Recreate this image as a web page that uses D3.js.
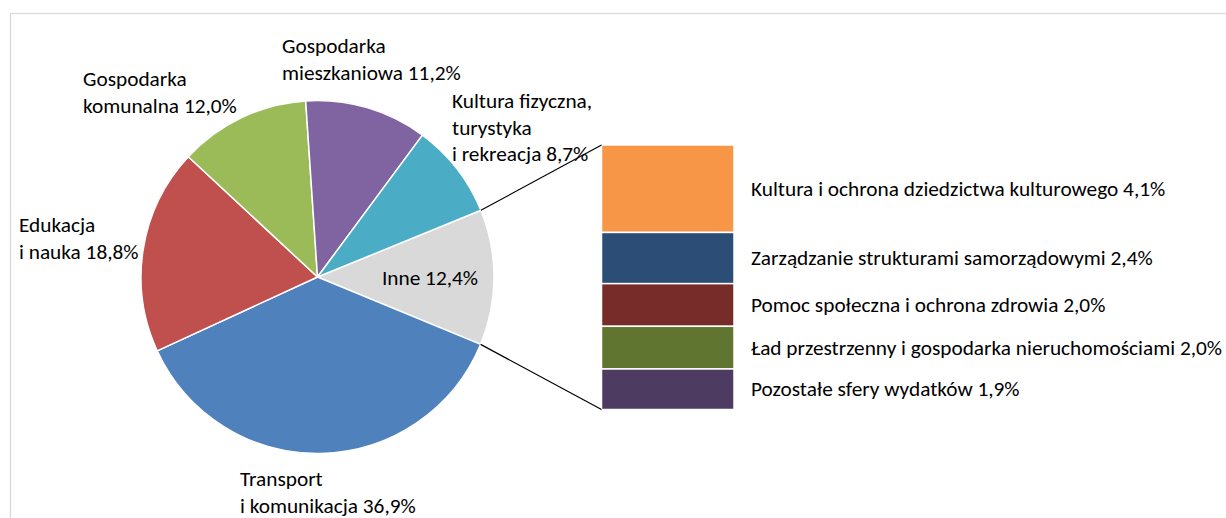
<!DOCTYPE html>
<html>
<head>
<meta charset="utf-8">
<script src="https://cdn.jsdelivr.net/npm/d3@7"></script>
<style>
  html, body { margin: 0; padding: 0; background: #fff; }
  svg { display: block; }
  text { font-family: Carlito, Calibri, Lato, "Noto Sans", sans-serif; fill: #000; }
</style>
</head>
<body>
<svg id="chart" width="1226" height="518"></svg>
<script>
// ---- data ----
const pieCategories = ["Inne", "Transport i komunikacja", "Edukacja i nauka", "Gospodarka komunalna", "Gospodarka mieszkaniowa", "Kultura fizyczna, turystyka i rekreacja"];
const pieValues = [12.4, 36.9, 18.8, 12.0, 11.2, 8.7];
const pieLabelLines = [
  ["Inne 12,4%"],
  ["Transport", "i komunikacja 36,9%"],
  ["Edukacja", "i nauka 18,8%"],
  ["Gospodarka", "komunalna 12,0%"],
  ["Gospodarka", "mieszkaniowa 11,2%"],
  ["Kultura fizyczna,", "turystyka", "i rekreacja 8,7%"]
];
const barCategories = ["Kultura i ochrona dziedzictwa kulturowego", "Zarządzanie strukturami samorządowymi", "Pomoc społeczna i ochrona zdrowia", "Ład przestrzenny i gospodarka nieruchomościami", "Pozostałe sfery wydatków"];
const barValues = [4.1, 2.4, 2.0, 2.0, 1.9];
const barLabels = ["Kultura i ochrona dziedzictwa kulturowego 4,1%", "Zarządzanie strukturami samorządowymi 2,4%", "Pomoc społeczna i ochrona zdrowia 2,0%", "Ład przestrzenny i gospodarka nieruchomościami 2,0%", "Pozostałe sfery wydatków 1,9%"];

// ---- styles / layout ----
const pieColors = ["#D9D9D9", "#4F81BD", "#C0504D", "#9BBB59", "#8064A2", "#4BACC6"];
const barColors = ["#F79646", "#2C4D75", "#772C2A", "#5F7530", "#4D3B62"];
const cx = 317.5, cy = 277, R = 176.5;
const startDeg = 67.8;
const bar = { x0: 601.5, x1: 734, y0: 145, y1: 409.5, labelX: 751 };
const fontSize = 21.3;
const lineH = 26.5;
// label anchors: [x, first baseline, anchor]
const pieLabelPos = [
  [430, 285, "middle"],
  [240, 486, "start"],
  [19, 232, "start"],
  [83, 86, "start"],
  [282, 53, "start"],
  [452, 108, "start"]
];

const svg = d3.select("#chart");

// chart border
svg.append("rect")
  .attr("x", 10.5).attr("y", 13.5)
  .attr("width", 1300).attr("height", 600)
  .attr("fill", "none").attr("stroke", "#D9D9D9").attr("stroke-width", 1.3);

// pie
const startA = startDeg * Math.PI / 180;
const pie = d3.pie().sort(null).value(d => d).startAngle(startA).endAngle(startA + 2 * Math.PI);
const arcs = pie(pieValues);
const arc = d3.arc().innerRadius(0).outerRadius(R);
const g = svg.append("g").attr("transform", `translate(${cx},${cy})`);
g.selectAll("path").data(arcs).join("path")
  .attr("d", arc)
  .attr("fill", (d, i) => pieColors[i])
  .attr("stroke", "#fff").attr("stroke-width", 1.5).attr("stroke-linejoin", "round");

// stacked bar
const total = d3.sum(barValues);
const y = d3.scaleLinear().domain([0, total]).range([bar.y0, bar.y1]);
const cum = d3.cumsum(barValues);
const segs = barValues.map((v, i) => ({ v, a: cum[i] - v, b: cum[i], i }));
svg.append("g").selectAll("rect").data(segs).join("rect")
  .attr("x", bar.x0).attr("width", bar.x1 - bar.x0)
  .attr("y", d => y(d.a))
  .attr("height", d => y(d.b) - y(d.a))
  .attr("fill", d => barColors[d.i])
  .attr("stroke", "#fff").attr("stroke-width", 1.5);

svg.append("g").selectAll("text").data(segs).join("text")
  .attr("x", bar.labelX)
  .attr("y", d => (y(d.a) + y(d.b)) / 2 + fontSize * 0.33)
  .attr("font-size", fontSize)
  .text(d => barLabels[d.i]);

// connector lines from "Inne" slice edges to bar
const inne = arcs[0];
const pt = a => [cx + R * Math.sin(a), cy - R * Math.cos(a)];
const p0 = pt(inne.startAngle), p1 = pt(inne.endAngle);
svg.append("line").attr("x1", p0[0]).attr("y1", p0[1]).attr("x2", bar.x0).attr("y2", y(0))
  .attr("stroke", "#000").attr("stroke-width", 1.2);
svg.append("line").attr("x1", p1[0]).attr("y1", p1[1]).attr("x2", bar.x0).attr("y2", y(total))
  .attr("stroke", "#000").attr("stroke-width", 1.2);

// pie labels
pieLabelLines.forEach((lines, i) => {
  const [lx, ly, anchor] = pieLabelPos[i];
  const t = svg.append("text").attr("font-size", fontSize).attr("text-anchor", anchor);
  lines.forEach((s, k) => {
    t.append("tspan").attr("x", lx).attr("y", ly + k * lineH).text(s);
  });
});
</script>
</body>
</html>
